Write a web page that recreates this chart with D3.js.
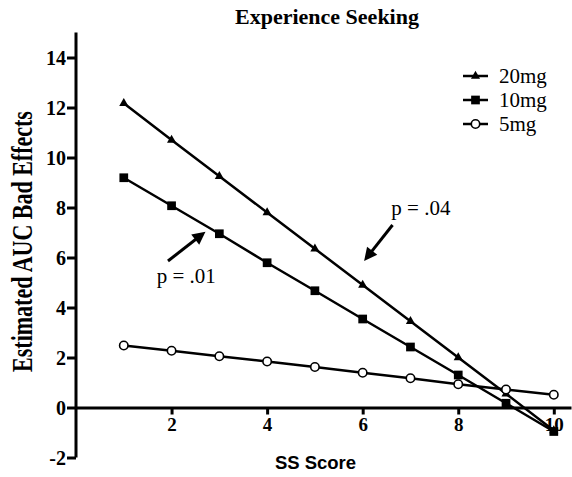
<!DOCTYPE html>
<html>
<head>
<meta charset="utf-8">
<script src="https://cdn.jsdelivr.net/npm/d3@7"></script>
<style>
    body { margin: 0; background: #fff; }
    svg { display: block; }
</style>
</head>
<body>
<div id="chart"></div>
<script>
// SS score on x, estimated AUC of bad effects on y
const ssScores = [1, 2, 3, 4, 5, 6, 7, 8, 9, 10];
const dose20 = [12.17, 10.7, 9.25, 7.8, 6.35, 4.9, 3.45, 2.0, 0.55, -0.92];
const dose10 = [9.19, 8.07, 6.95, 5.79, 4.67, 3.54, 2.42, 1.3, 0.17, -0.96];
const dose5 = [2.48, 2.27, 2.05, 1.84, 1.62, 1.39, 1.17, 0.93, 0.72, 0.51];
const seriesNames = ["20mg", "10mg", "5mg"];
const xTicks = [2, 4, 6, 8, 10];
const yTicks = [-2, 0, 2, 4, 6, 8, 10, 12, 14];
// p-value callouts: text anchor + arrow start/end, all in data units
const annotations = [
    {label: "p = .01", tx: 1.69, ty: 4.98, x1: 1.925, y1: 5.86, x2: 2.71, y2: 7.03},
    {label: "p = .04", tx: 6.6, ty: 7.7, x1: 6.625, y1: 7.3, x2: 6.03, y2: 5.86}
];

const W = 572, H = 477;
const serif = "'Liberation Serif', 'Times New Roman', serif";
const sans = "'Liberation Sans', Arial, sans-serif";

const svg = d3.select("#chart")
    .append("svg")
    .attr("width", W)
    .attr("height", H);

const x = d3.scaleLinear().domain([0, 10.36]).range([76, 571]);
const y = d3.scaleLinear().domain([-2, 15]).range([457.5, 32.5]);

const data = [
    {name: seriesNames[0], shape: "triangle", values: ssScores.map((s, i) => [s, dose20[i]])},
    {name: seriesNames[1], shape: "square", values: ssScores.map((s, i) => [s, dose10[i]])},
    {name: seriesNames[2], shape: "circle", values: ssScores.map((s, i) => [s, dose5[i]])}
];

// axes (plain hyphen for negatives, like the original)
const fmt = d => String(d);
const xAxis = svg.append("g")
    .attr("transform", "translate(0," + y(0) + ")")
    .call(d3.axisBottom(x).tickValues(xTicks).tickFormat(fmt)
        .tickSizeInner(7).tickSizeOuter(0).tickPadding(3));
const yAxis = svg.append("g")
    .attr("transform", "translate(" + x(0) + ",0)")
    .call(d3.axisLeft(y).tickValues(yTicks).tickFormat(fmt)
        .tickSizeInner(9).tickSizeOuter(0).tickPadding(1));

[xAxis, yAxis].forEach(a => {
    a.select(".domain").attr("stroke", "#000").attr("stroke-width", 3);
    a.selectAll(".tick line").attr("stroke", "#000").attr("stroke-width", 3);
    a.selectAll(".tick text")
        .attr("fill", "#000")
        .style("font-family", serif)
        .style("font-weight", "bold");
});
xAxis.selectAll(".tick text").style("font-size", "19px");
yAxis.selectAll(".tick text").style("font-size", "20px").attr("dy", "0.36em");
yAxis.select(".domain").attr("d", "M0," + y(15) + "V" + y(-2));

// lines
const line = d3.line().x(d => x(d[0])).y(d => y(d[1]));
svg.selectAll(".series")
    .data(data)
    .join("path")
    .attr("class", "series")
    .attr("d", d => line(d.values))
    .attr("fill", "none")
    .attr("stroke", "#000")
    .attr("stroke-width", 2.5);

function drawMarker(sel, shape) {
    if (shape === "circle") {
        sel.append("circle").attr("r", 4.2)
            .attr("fill", "#fff").attr("stroke", "#000").attr("stroke-width", 1.6);
    } else if (shape === "square") {
        sel.append("path").attr("d", d3.symbol(d3.symbolSquare, 76)())
            .attr("fill", "#000");
    } else {
        sel.append("path").attr("d", d3.symbol(d3.symbolTriangle, 36)())
            .attr("fill", "#000");
    }
}

// markers
data.forEach(s => {
    svg.append("g")
        .selectAll("g")
        .data(s.values)
        .join("g")
        .attr("transform", d => "translate(" + x(d[0]) + "," + y(d[1]) + ")")
        .each(function () { drawMarker(d3.select(this), s.shape); });
});

// legend
const legend = svg.selectAll(".legend")
    .data(data)
    .join("g")
    .attr("class", "legend")
    .attr("transform", (d, i) => "translate(463," + (76 + i * 24) + ")");
legend.append("line")
    .attr("x1", 0).attr("x2", 25)
    .attr("stroke", "#000").attr("stroke-width", 2.5);
legend.append("g")
    .attr("transform", "translate(12.5,0)")
    .each(function (d) { drawMarker(d3.select(this), d.shape); });
legend.append("text")
    .attr("x", 36)
    .attr("dy", "0.34em")
    .attr("fill", "#000")
    .text(d => d.name)
    .style("font-family", serif)
    .style("font-size", "21px");

// p-value callouts
annotations.forEach(a => {
    const x1 = x(a.x1), y1 = y(a.y1), x2 = x(a.x2), y2 = y(a.y2);
    const len = Math.hypot(x2 - x1, y2 - y1);
    const ux = (x2 - x1) / len, uy = (y2 - y1) / len;
    const headLen = 13, headW = 6.5;
    svg.append("line")
        .attr("x1", x1).attr("y1", y1)
        .attr("x2", x2 - ux * (headLen - 2)).attr("y2", y2 - uy * (headLen - 2))
        .attr("stroke", "#000").attr("stroke-width", 3);
    const bx = x2 - ux * headLen, by = y2 - uy * headLen;
    svg.append("polygon")
        .attr("points", [
            [x2, y2],
            [bx - uy * headW, by + ux * headW],
            [bx + uy * headW, by - ux * headW]
        ].map(p => p.join(",")).join(" "))
        .attr("fill", "#000");
    svg.append("text")
        .attr("x", x(a.tx))
        .attr("y", y(a.ty))
        .attr("fill", "#000")
        .text(a.label)
        .style("font-family", serif)
        .style("font-size", "21px");
});

// titles
svg.append("text")
    .attr("x", 327)
    .attr("y", 24)
    .attr("text-anchor", "middle")
    .attr("fill", "#000")
    .text("Experience Seeking")
    .style("font-family", serif)
    .style("font-weight", "bold")
    .style("font-size", "22px");

// the original y title is drawn wider than it is tall, hence the x stretch
svg.append("text")
    .attr("transform", "translate(32,241.5) scale(1.3,1) rotate(-90)")
    .attr("text-anchor", "middle")
    .attr("fill", "#000")
    .text("Estimated AUC Bad Effects")
    .style("font-family", serif)
    .style("font-weight", "bold")
    .style("font-size", "22px");

svg.append("text")
    .attr("x", 315.5)
    .attr("y", 469)
    .attr("text-anchor", "middle")
    .attr("fill", "#000")
    .text("SS Score")
    .style("font-family", sans)
    .style("font-weight", "bold")
    .style("font-size", "18.5px");
</script>
</body>
</html>
